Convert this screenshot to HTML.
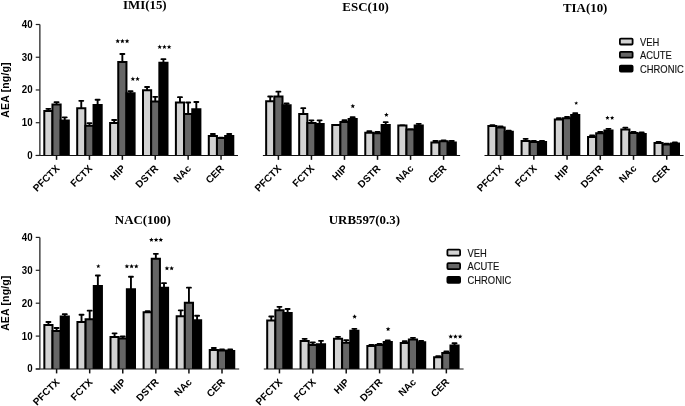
<!DOCTYPE html><html><head><meta charset="utf-8"><title>AEA levels</title><style>
html,body{margin:0;padding:0;background:#fff;overflow:hidden;}svg{display:block;}
.t{font-family:"Liberation Serif",serif;font-weight:bold;font-size:12.9px;fill:#000;}
.yl{font-family:"Liberation Sans",sans-serif;font-weight:bold;font-size:9.7px;fill:#000;}
.xl{font-family:"Liberation Sans",sans-serif;font-weight:bold;font-size:10px;fill:#000;}
.al{font-family:"Liberation Sans",sans-serif;font-weight:bold;font-size:10.5px;letter-spacing:0.15px;fill:#000;}
.lg{font-family:"Liberation Sans",sans-serif;font-size:9.4px;fill:#111;stroke:#111;stroke-width:0.12px;}
</style></head><body>
<div style="will-change:transform;width:685px;height:406px;">
<svg width="685" height="406" viewBox="0 0 685 406">
<rect width="685" height="406" fill="#fff"/>
<g>
<text class="t" x="144.8" y="8.8" text-anchor="middle">IMI(15)</text>
<line x1="48.38" y1="111.1" x2="48.38" y2="108.85" stroke="#000" stroke-width="1.9"/>
<line x1="46.38" y1="108.85" x2="50.38" y2="108.85" stroke="#000" stroke-width="1.9" stroke-linecap="round"/>
<path d="M44.3 155.45V111.1H52.45V155.45" fill="#d3d3d3" stroke="#000" stroke-width="2.0"/>
<line x1="56.55" y1="104.6" x2="56.55" y2="102.15" stroke="#000" stroke-width="1.9"/>
<line x1="54.55" y1="102.15" x2="58.55" y2="102.15" stroke="#000" stroke-width="1.9" stroke-linecap="round"/>
<path d="M52.45 155.45V104.6H60.65V155.45" fill="#666666" stroke="#000" stroke-width="2.0"/>
<line x1="64.72" y1="120.6" x2="64.72" y2="117.35" stroke="#000" stroke-width="1.9"/>
<line x1="62.72" y1="117.35" x2="66.72" y2="117.35" stroke="#000" stroke-width="1.9" stroke-linecap="round"/>
<path d="M60.65 155.45V120.6H68.8V155.45" fill="#000000" stroke="#000" stroke-width="2.0"/>
<line x1="56.55" y1="155.45" x2="56.55" y2="159.85" stroke="#111" stroke-width="1.5"/>
<text class="xl" text-anchor="end" transform="translate(60.15,169.15) rotate(-45)">PFCTX</text>
<line x1="81.27" y1="108.2" x2="81.27" y2="100.85" stroke="#000" stroke-width="1.9"/>
<line x1="79.27" y1="100.85" x2="83.27" y2="100.85" stroke="#000" stroke-width="1.9" stroke-linecap="round"/>
<path d="M77.2 155.45V108.2H85.35V155.45" fill="#d3d3d3" stroke="#000" stroke-width="2.0"/>
<line x1="89.45" y1="125.8" x2="89.45" y2="123.15" stroke="#000" stroke-width="1.9"/>
<line x1="87.45" y1="123.15" x2="91.45" y2="123.15" stroke="#000" stroke-width="1.9" stroke-linecap="round"/>
<path d="M85.35 155.45V125.8H93.55V155.45" fill="#666666" stroke="#000" stroke-width="2.0"/>
<line x1="97.62" y1="105" x2="97.62" y2="99.75" stroke="#000" stroke-width="1.9"/>
<line x1="95.62" y1="99.75" x2="99.62" y2="99.75" stroke="#000" stroke-width="1.9" stroke-linecap="round"/>
<path d="M93.55 155.45V105H101.7V155.45" fill="#000000" stroke="#000" stroke-width="2.0"/>
<line x1="89.45" y1="155.45" x2="89.45" y2="159.85" stroke="#111" stroke-width="1.5"/>
<text class="xl" text-anchor="end" transform="translate(93.05,169.15) rotate(-45)">FCTX</text>
<line x1="114.17" y1="123.1" x2="114.17" y2="119.95" stroke="#000" stroke-width="1.9"/>
<line x1="112.17" y1="119.95" x2="116.17" y2="119.95" stroke="#000" stroke-width="1.9" stroke-linecap="round"/>
<path d="M110.1 155.45V123.1H118.25V155.45" fill="#d3d3d3" stroke="#000" stroke-width="2.0"/>
<line x1="122.35" y1="61.9" x2="122.35" y2="53.95" stroke="#000" stroke-width="1.9"/>
<line x1="120.35" y1="53.95" x2="124.35" y2="53.95" stroke="#000" stroke-width="1.9" stroke-linecap="round"/>
<path d="M118.25 155.45V61.9H126.45V155.45" fill="#666666" stroke="#000" stroke-width="2.0"/>
<line x1="130.52" y1="93.3" x2="130.52" y2="91.15" stroke="#000" stroke-width="1.9"/>
<line x1="128.52" y1="91.15" x2="132.52" y2="91.15" stroke="#000" stroke-width="1.9" stroke-linecap="round"/>
<path d="M126.45 155.45V93.3H134.6V155.45" fill="#000000" stroke="#000" stroke-width="2.0"/>
<line x1="122.35" y1="155.45" x2="122.35" y2="159.85" stroke="#111" stroke-width="1.5"/>
<text class="xl" text-anchor="end" transform="translate(125.95,169.15) rotate(-45)">HIP</text>
<line x1="147.07" y1="90.2" x2="147.07" y2="86.95" stroke="#000" stroke-width="1.9"/>
<line x1="145.07" y1="86.95" x2="149.07" y2="86.95" stroke="#000" stroke-width="1.9" stroke-linecap="round"/>
<path d="M143 155.45V90.2H151.15V155.45" fill="#d3d3d3" stroke="#000" stroke-width="2.0"/>
<line x1="155.25" y1="101.5" x2="155.25" y2="96.85" stroke="#000" stroke-width="1.9"/>
<line x1="153.25" y1="96.85" x2="157.25" y2="96.85" stroke="#000" stroke-width="1.9" stroke-linecap="round"/>
<path d="M151.15 155.45V101.5H159.35V155.45" fill="#666666" stroke="#000" stroke-width="2.0"/>
<line x1="163.43" y1="62.8" x2="163.43" y2="59.15" stroke="#000" stroke-width="1.9"/>
<line x1="161.43" y1="59.15" x2="165.43" y2="59.15" stroke="#000" stroke-width="1.9" stroke-linecap="round"/>
<path d="M159.35 155.45V62.8H167.5V155.45" fill="#000000" stroke="#000" stroke-width="2.0"/>
<line x1="155.25" y1="155.45" x2="155.25" y2="159.85" stroke="#111" stroke-width="1.5"/>
<text class="xl" text-anchor="end" transform="translate(158.85,169.15) rotate(-45)">DSTR</text>
<line x1="179.97" y1="102.6" x2="179.97" y2="97.15" stroke="#000" stroke-width="1.9"/>
<line x1="177.97" y1="97.15" x2="181.97" y2="97.15" stroke="#000" stroke-width="1.9" stroke-linecap="round"/>
<path d="M175.9 155.45V102.6H184.05V155.45" fill="#d3d3d3" stroke="#000" stroke-width="2.0"/>
<line x1="188.15" y1="114.1" x2="188.15" y2="102.55" stroke="#000" stroke-width="1.9"/>
<line x1="186.15" y1="102.55" x2="190.15" y2="102.55" stroke="#000" stroke-width="1.9" stroke-linecap="round"/>
<path d="M184.05 155.45V114.1H192.25V155.45" fill="#666666" stroke="#000" stroke-width="2.0"/>
<line x1="196.32" y1="109.3" x2="196.32" y2="101.95" stroke="#000" stroke-width="1.9"/>
<line x1="194.32" y1="101.95" x2="198.32" y2="101.95" stroke="#000" stroke-width="1.9" stroke-linecap="round"/>
<path d="M192.25 155.45V109.3H200.4V155.45" fill="#000000" stroke="#000" stroke-width="2.0"/>
<line x1="188.15" y1="155.45" x2="188.15" y2="159.85" stroke="#111" stroke-width="1.5"/>
<text class="xl" text-anchor="end" transform="translate(191.75,169.15) rotate(-45)">NAc</text>
<line x1="212.88" y1="135.9" x2="212.88" y2="134.05" stroke="#000" stroke-width="1.9"/>
<line x1="210.88" y1="134.05" x2="214.88" y2="134.05" stroke="#000" stroke-width="1.9" stroke-linecap="round"/>
<path d="M208.8 155.45V135.9H216.95V155.45" fill="#d3d3d3" stroke="#000" stroke-width="2.0"/>
<line x1="221.05" y1="138.1" x2="221.05" y2="137.75" stroke="#000" stroke-width="1.9"/>
<line x1="219.05" y1="137.75" x2="223.05" y2="137.75" stroke="#000" stroke-width="1.9" stroke-linecap="round"/>
<path d="M216.95 155.45V138.1H225.15V155.45" fill="#666666" stroke="#000" stroke-width="2.0"/>
<line x1="229.23" y1="135.9" x2="229.23" y2="134.05" stroke="#000" stroke-width="1.9"/>
<line x1="227.23" y1="134.05" x2="231.23" y2="134.05" stroke="#000" stroke-width="1.9" stroke-linecap="round"/>
<path d="M225.15 155.45V135.9H233.3V155.45" fill="#000000" stroke="#000" stroke-width="2.0"/>
<line x1="221.05" y1="155.45" x2="221.05" y2="159.85" stroke="#111" stroke-width="1.5"/>
<text class="xl" text-anchor="end" transform="translate(224.65,169.15) rotate(-45)">CER</text>
<line x1="35.75" y1="155.45" x2="238" y2="155.45" stroke="#111" stroke-width="1.15"/>
<line x1="39.85" y1="24.5" x2="39.85" y2="155.45" stroke="#444" stroke-width="1.5"/>
<line x1="35.75" y1="155.45" x2="39.85" y2="155.45" stroke="#222" stroke-width="1.2"/>
<text class="yl" text-anchor="end" transform="translate(32.55,158.85) scale(1,1.08)">0</text>
<line x1="35.75" y1="122.71" x2="39.85" y2="122.71" stroke="#222" stroke-width="1.2"/>
<text class="yl" text-anchor="end" transform="translate(32.55,126.11) scale(1,1.08)">10</text>
<line x1="35.75" y1="89.97" x2="39.85" y2="89.97" stroke="#222" stroke-width="1.2"/>
<text class="yl" text-anchor="end" transform="translate(32.55,93.38) scale(1,1.08)">20</text>
<line x1="35.75" y1="57.24" x2="39.85" y2="57.24" stroke="#222" stroke-width="1.2"/>
<text class="yl" text-anchor="end" transform="translate(32.55,60.64) scale(1,1.08)">30</text>
<line x1="35.75" y1="24.5" x2="39.85" y2="24.5" stroke="#222" stroke-width="1.2"/>
<text class="yl" text-anchor="end" transform="translate(32.55,27.9) scale(1,1.08)">40</text>
<text class="al" text-anchor="middle" transform="translate(8.9,89.97) rotate(-90)">AEA [ng/g]</text>
<g fill="#000">
<polygon points="117.70,38.80 118.33,40.33 119.98,40.46 118.73,41.53 119.11,43.14 117.70,42.28 116.29,43.14 116.67,41.53 115.42,40.46 117.07,40.33"/>
<polygon points="122.40,38.80 123.03,40.33 124.68,40.46 123.43,41.53 123.81,43.14 122.40,42.28 120.99,43.14 121.37,41.53 120.12,40.46 121.77,40.33"/>
<polygon points="127.10,38.80 127.73,40.33 129.38,40.46 128.13,41.53 128.51,43.14 127.10,42.28 125.69,43.14 126.07,41.53 124.82,40.46 126.47,40.33"/>
<polygon points="132.85,76.60 133.48,78.13 135.13,78.26 133.88,79.33 134.26,80.94 132.85,80.08 131.44,80.94 131.82,79.33 130.57,78.26 132.22,78.13"/>
<polygon points="137.55,76.60 138.18,78.13 139.83,78.26 138.58,79.33 138.96,80.94 137.55,80.08 136.14,80.94 136.52,79.33 135.27,78.26 136.92,78.13"/>
<polygon points="159.70,44.60 160.33,46.13 161.98,46.26 160.73,47.33 161.11,48.94 159.70,48.08 158.29,48.94 158.67,47.33 157.42,46.26 159.07,46.13"/>
<polygon points="164.40,44.60 165.03,46.13 166.68,46.26 165.43,47.33 165.81,48.94 164.40,48.08 162.99,48.94 163.37,47.33 162.12,46.26 163.77,46.13"/>
<polygon points="169.10,44.60 169.73,46.13 171.38,46.26 170.13,47.33 170.51,48.94 169.10,48.08 167.69,48.94 168.07,47.33 166.82,46.26 168.47,46.13"/>
</g></g>
<g>
<text class="t" x="365.65" y="11.4" text-anchor="middle">ESC(10)</text>
<line x1="270.22" y1="101.3" x2="270.22" y2="96.55" stroke="#000" stroke-width="1.9"/>
<line x1="268.22" y1="96.55" x2="272.22" y2="96.55" stroke="#000" stroke-width="1.9" stroke-linecap="round"/>
<path d="M266.15 155.45V101.3H274.3V155.45" fill="#d3d3d3" stroke="#000" stroke-width="2.0"/>
<line x1="278.4" y1="96.4" x2="278.4" y2="91.65" stroke="#000" stroke-width="1.9"/>
<line x1="276.4" y1="91.65" x2="280.4" y2="91.65" stroke="#000" stroke-width="1.9" stroke-linecap="round"/>
<path d="M274.3 155.45V96.4H282.5V155.45" fill="#666666" stroke="#000" stroke-width="2.0"/>
<line x1="286.57" y1="105.3" x2="286.57" y2="103.45" stroke="#000" stroke-width="1.9"/>
<line x1="284.57" y1="103.45" x2="288.57" y2="103.45" stroke="#000" stroke-width="1.9" stroke-linecap="round"/>
<path d="M282.5 155.45V105.3H290.65V155.45" fill="#000000" stroke="#000" stroke-width="2.0"/>
<line x1="278.4" y1="155.45" x2="278.4" y2="159.85" stroke="#111" stroke-width="1.5"/>
<text class="xl" text-anchor="end" transform="translate(282,169.15) rotate(-45)">PFCTX</text>
<line x1="303.26" y1="113.9" x2="303.26" y2="108.15" stroke="#000" stroke-width="1.9"/>
<line x1="301.26" y1="108.15" x2="305.26" y2="108.15" stroke="#000" stroke-width="1.9" stroke-linecap="round"/>
<path d="M299.19 155.45V113.9H307.34V155.45" fill="#d3d3d3" stroke="#000" stroke-width="2.0"/>
<line x1="311.44" y1="122.9" x2="311.44" y2="120.35" stroke="#000" stroke-width="1.9"/>
<line x1="309.44" y1="120.35" x2="313.44" y2="120.35" stroke="#000" stroke-width="1.9" stroke-linecap="round"/>
<path d="M307.34 155.45V122.9H315.54V155.45" fill="#666666" stroke="#000" stroke-width="2.0"/>
<line x1="319.62" y1="123.9" x2="319.62" y2="120.35" stroke="#000" stroke-width="1.9"/>
<line x1="317.62" y1="120.35" x2="321.62" y2="120.35" stroke="#000" stroke-width="1.9" stroke-linecap="round"/>
<path d="M315.54 155.45V123.9H323.69V155.45" fill="#000000" stroke="#000" stroke-width="2.0"/>
<line x1="311.44" y1="155.45" x2="311.44" y2="159.85" stroke="#111" stroke-width="1.5"/>
<text class="xl" text-anchor="end" transform="translate(315.04,169.15) rotate(-45)">FCTX</text>
<line x1="334.3" y1="124.95" x2="338.3" y2="124.95" stroke="#000" stroke-width="1.9" stroke-linecap="round"/>
<path d="M332.23 155.45V125H340.38V155.45" fill="#d3d3d3" stroke="#000" stroke-width="2.0"/>
<line x1="344.48" y1="122.1" x2="344.48" y2="120.15" stroke="#000" stroke-width="1.9"/>
<line x1="342.48" y1="120.15" x2="346.48" y2="120.15" stroke="#000" stroke-width="1.9" stroke-linecap="round"/>
<path d="M340.38 155.45V122.1H348.58V155.45" fill="#666666" stroke="#000" stroke-width="2.0"/>
<line x1="352.65" y1="119" x2="352.65" y2="117.15" stroke="#000" stroke-width="1.9"/>
<line x1="350.65" y1="117.15" x2="354.65" y2="117.15" stroke="#000" stroke-width="1.9" stroke-linecap="round"/>
<path d="M348.58 155.45V119H356.73V155.45" fill="#000000" stroke="#000" stroke-width="2.0"/>
<line x1="344.48" y1="155.45" x2="344.48" y2="159.85" stroke="#111" stroke-width="1.5"/>
<text class="xl" text-anchor="end" transform="translate(348.08,169.15) rotate(-45)">HIP</text>
<line x1="369.34" y1="132.8" x2="369.34" y2="131.25" stroke="#000" stroke-width="1.9"/>
<line x1="367.34" y1="131.25" x2="371.34" y2="131.25" stroke="#000" stroke-width="1.9" stroke-linecap="round"/>
<path d="M365.27 155.45V132.8H373.42V155.45" fill="#d3d3d3" stroke="#000" stroke-width="2.0"/>
<line x1="377.52" y1="133.3" x2="377.52" y2="131.95" stroke="#000" stroke-width="1.9"/>
<line x1="375.52" y1="131.95" x2="379.52" y2="131.95" stroke="#000" stroke-width="1.9" stroke-linecap="round"/>
<path d="M373.42 155.45V133.3H381.62V155.45" fill="#666666" stroke="#000" stroke-width="2.0"/>
<line x1="385.69" y1="125.1" x2="385.69" y2="122.15" stroke="#000" stroke-width="1.9"/>
<line x1="383.69" y1="122.15" x2="387.69" y2="122.15" stroke="#000" stroke-width="1.9" stroke-linecap="round"/>
<path d="M381.62 155.45V125.1H389.77V155.45" fill="#000000" stroke="#000" stroke-width="2.0"/>
<line x1="377.52" y1="155.45" x2="377.52" y2="159.85" stroke="#111" stroke-width="1.5"/>
<text class="xl" text-anchor="end" transform="translate(381.12,169.15) rotate(-45)">DSTR</text>
<line x1="400.38" y1="125.55" x2="404.38" y2="125.55" stroke="#000" stroke-width="1.9" stroke-linecap="round"/>
<path d="M398.31 155.45V125.6H406.46V155.45" fill="#d3d3d3" stroke="#000" stroke-width="2.0"/>
<line x1="408.56" y1="129.45" x2="412.56" y2="129.45" stroke="#000" stroke-width="1.9" stroke-linecap="round"/>
<path d="M406.46 155.45V129.5H414.66V155.45" fill="#666666" stroke="#000" stroke-width="2.0"/>
<line x1="418.73" y1="125.4" x2="418.73" y2="123.85" stroke="#000" stroke-width="1.9"/>
<line x1="416.73" y1="123.85" x2="420.73" y2="123.85" stroke="#000" stroke-width="1.9" stroke-linecap="round"/>
<path d="M414.66 155.45V125.4H422.81V155.45" fill="#000000" stroke="#000" stroke-width="2.0"/>
<line x1="410.56" y1="155.45" x2="410.56" y2="159.85" stroke="#111" stroke-width="1.5"/>
<text class="xl" text-anchor="end" transform="translate(414.16,169.15) rotate(-45)">NAc</text>
<line x1="435.42" y1="142.6" x2="435.42" y2="141.05" stroke="#000" stroke-width="1.9"/>
<line x1="433.42" y1="141.05" x2="437.42" y2="141.05" stroke="#000" stroke-width="1.9" stroke-linecap="round"/>
<path d="M431.35 155.45V142.6H439.5V155.45" fill="#d3d3d3" stroke="#000" stroke-width="2.0"/>
<line x1="443.6" y1="141.3" x2="443.6" y2="140.35" stroke="#000" stroke-width="1.9"/>
<line x1="441.6" y1="140.35" x2="445.6" y2="140.35" stroke="#000" stroke-width="1.9" stroke-linecap="round"/>
<path d="M439.5 155.45V141.3H447.7V155.45" fill="#666666" stroke="#000" stroke-width="2.0"/>
<line x1="451.77" y1="142.6" x2="451.77" y2="141.05" stroke="#000" stroke-width="1.9"/>
<line x1="449.77" y1="141.05" x2="453.77" y2="141.05" stroke="#000" stroke-width="1.9" stroke-linecap="round"/>
<path d="M447.7 155.45V142.6H455.85V155.45" fill="#000000" stroke="#000" stroke-width="2.0"/>
<line x1="443.6" y1="155.45" x2="443.6" y2="159.85" stroke="#111" stroke-width="1.5"/>
<text class="xl" text-anchor="end" transform="translate(447.2,169.15) rotate(-45)">CER</text>
<line x1="262.9" y1="155.45" x2="460.1" y2="155.45" stroke="#111" stroke-width="1.15"/>
<g fill="#000">
<polygon points="352.80,103.80 353.43,105.33 355.08,105.46 353.83,106.53 354.21,108.14 352.80,107.28 351.39,108.14 351.77,106.53 350.52,105.46 352.17,105.33"/>
<polygon points="386.40,112.50 387.03,114.03 388.68,114.16 387.43,115.23 387.81,116.84 386.40,115.98 384.99,116.84 385.37,115.23 384.12,114.16 385.77,114.03"/>
</g></g>
<g>
<text class="t" x="585.2" y="12.3" text-anchor="middle">TIA(10)</text>
<line x1="492.43" y1="126.1" x2="492.43" y2="125.15" stroke="#000" stroke-width="1.9"/>
<line x1="490.43" y1="125.15" x2="494.43" y2="125.15" stroke="#000" stroke-width="1.9" stroke-linecap="round"/>
<path d="M488.35 155.45V126.1H496.5V155.45" fill="#d3d3d3" stroke="#000" stroke-width="2.0"/>
<line x1="500.6" y1="127.6" x2="500.6" y2="126.35" stroke="#000" stroke-width="1.9"/>
<line x1="498.6" y1="126.35" x2="502.6" y2="126.35" stroke="#000" stroke-width="1.9" stroke-linecap="round"/>
<path d="M496.5 155.45V127.6H504.7V155.45" fill="#666666" stroke="#000" stroke-width="2.0"/>
<line x1="508.78" y1="131.8" x2="508.78" y2="130.75" stroke="#000" stroke-width="1.9"/>
<line x1="506.78" y1="130.75" x2="510.78" y2="130.75" stroke="#000" stroke-width="1.9" stroke-linecap="round"/>
<path d="M504.7 155.45V131.8H512.85V155.45" fill="#000000" stroke="#000" stroke-width="2.0"/>
<line x1="500.6" y1="155.45" x2="500.6" y2="159.85" stroke="#111" stroke-width="1.5"/>
<text class="xl" text-anchor="end" transform="translate(504.2,169.15) rotate(-45)">PFCTX</text>
<line x1="525.65" y1="140.9" x2="525.65" y2="138.85" stroke="#000" stroke-width="1.9"/>
<line x1="523.65" y1="138.85" x2="527.65" y2="138.85" stroke="#000" stroke-width="1.9" stroke-linecap="round"/>
<path d="M521.58 155.45V140.9H529.73V155.45" fill="#d3d3d3" stroke="#000" stroke-width="2.0"/>
<line x1="533.83" y1="142.1" x2="533.83" y2="141.05" stroke="#000" stroke-width="1.9"/>
<line x1="531.83" y1="141.05" x2="535.83" y2="141.05" stroke="#000" stroke-width="1.9" stroke-linecap="round"/>
<path d="M529.73 155.45V142.1H537.93V155.45" fill="#666666" stroke="#000" stroke-width="2.0"/>
<line x1="542.01" y1="141.9" x2="542.01" y2="140.85" stroke="#000" stroke-width="1.9"/>
<line x1="540.01" y1="140.85" x2="544.01" y2="140.85" stroke="#000" stroke-width="1.9" stroke-linecap="round"/>
<path d="M537.93 155.45V141.9H546.08V155.45" fill="#000000" stroke="#000" stroke-width="2.0"/>
<line x1="533.83" y1="155.45" x2="533.83" y2="159.85" stroke="#111" stroke-width="1.5"/>
<text class="xl" text-anchor="end" transform="translate(537.43,169.15) rotate(-45)">FCTX</text>
<line x1="558.88" y1="119.6" x2="558.88" y2="118.25" stroke="#000" stroke-width="1.9"/>
<line x1="556.88" y1="118.25" x2="560.88" y2="118.25" stroke="#000" stroke-width="1.9" stroke-linecap="round"/>
<path d="M554.81 155.45V119.6H562.96V155.45" fill="#d3d3d3" stroke="#000" stroke-width="2.0"/>
<line x1="567.06" y1="118.3" x2="567.06" y2="117.05" stroke="#000" stroke-width="1.9"/>
<line x1="565.06" y1="117.05" x2="569.06" y2="117.05" stroke="#000" stroke-width="1.9" stroke-linecap="round"/>
<path d="M562.96 155.45V118.3H571.16V155.45" fill="#666666" stroke="#000" stroke-width="2.0"/>
<line x1="575.24" y1="114.9" x2="575.24" y2="113.25" stroke="#000" stroke-width="1.9"/>
<line x1="573.24" y1="113.25" x2="577.24" y2="113.25" stroke="#000" stroke-width="1.9" stroke-linecap="round"/>
<path d="M571.16 155.45V114.9H579.31V155.45" fill="#000000" stroke="#000" stroke-width="2.0"/>
<line x1="567.06" y1="155.45" x2="567.06" y2="159.85" stroke="#111" stroke-width="1.5"/>
<text class="xl" text-anchor="end" transform="translate(570.66,169.15) rotate(-45)">HIP</text>
<line x1="592.12" y1="137" x2="592.12" y2="135.55" stroke="#000" stroke-width="1.9"/>
<line x1="590.12" y1="135.55" x2="594.12" y2="135.55" stroke="#000" stroke-width="1.9" stroke-linecap="round"/>
<path d="M588.04 155.45V137H596.19V155.45" fill="#d3d3d3" stroke="#000" stroke-width="2.0"/>
<line x1="600.29" y1="133.3" x2="600.29" y2="132.05" stroke="#000" stroke-width="1.9"/>
<line x1="598.29" y1="132.05" x2="602.29" y2="132.05" stroke="#000" stroke-width="1.9" stroke-linecap="round"/>
<path d="M596.19 155.45V133.3H604.39V155.45" fill="#666666" stroke="#000" stroke-width="2.0"/>
<line x1="608.46" y1="130.4" x2="608.46" y2="128.85" stroke="#000" stroke-width="1.9"/>
<line x1="606.46" y1="128.85" x2="610.46" y2="128.85" stroke="#000" stroke-width="1.9" stroke-linecap="round"/>
<path d="M604.39 155.45V130.4H612.54V155.45" fill="#000000" stroke="#000" stroke-width="2.0"/>
<line x1="600.29" y1="155.45" x2="600.29" y2="159.85" stroke="#111" stroke-width="1.5"/>
<text class="xl" text-anchor="end" transform="translate(603.89,169.15) rotate(-45)">DSTR</text>
<line x1="625.35" y1="129.4" x2="625.35" y2="127.65" stroke="#000" stroke-width="1.9"/>
<line x1="623.35" y1="127.65" x2="627.35" y2="127.65" stroke="#000" stroke-width="1.9" stroke-linecap="round"/>
<path d="M621.27 155.45V129.4H629.42V155.45" fill="#d3d3d3" stroke="#000" stroke-width="2.0"/>
<line x1="633.52" y1="132.9" x2="633.52" y2="131.85" stroke="#000" stroke-width="1.9"/>
<line x1="631.52" y1="131.85" x2="635.52" y2="131.85" stroke="#000" stroke-width="1.9" stroke-linecap="round"/>
<path d="M629.42 155.45V132.9H637.62V155.45" fill="#666666" stroke="#000" stroke-width="2.0"/>
<line x1="641.69" y1="134.1" x2="641.69" y2="132.55" stroke="#000" stroke-width="1.9"/>
<line x1="639.69" y1="132.55" x2="643.69" y2="132.55" stroke="#000" stroke-width="1.9" stroke-linecap="round"/>
<path d="M637.62 155.45V134.1H645.77V155.45" fill="#000000" stroke="#000" stroke-width="2.0"/>
<line x1="633.52" y1="155.45" x2="633.52" y2="159.85" stroke="#111" stroke-width="1.5"/>
<text class="xl" text-anchor="end" transform="translate(637.12,169.15) rotate(-45)">NAc</text>
<line x1="658.58" y1="143.1" x2="658.58" y2="142.05" stroke="#000" stroke-width="1.9"/>
<line x1="656.58" y1="142.05" x2="660.58" y2="142.05" stroke="#000" stroke-width="1.9" stroke-linecap="round"/>
<path d="M654.5 155.45V143.1H662.65V155.45" fill="#d3d3d3" stroke="#000" stroke-width="2.0"/>
<line x1="666.75" y1="144.4" x2="666.75" y2="143.75" stroke="#000" stroke-width="1.9"/>
<line x1="664.75" y1="143.75" x2="668.75" y2="143.75" stroke="#000" stroke-width="1.9" stroke-linecap="round"/>
<path d="M662.65 155.45V144.4H670.85V155.45" fill="#666666" stroke="#000" stroke-width="2.0"/>
<line x1="674.92" y1="143.4" x2="674.92" y2="142.55" stroke="#000" stroke-width="1.9"/>
<line x1="672.92" y1="142.55" x2="676.92" y2="142.55" stroke="#000" stroke-width="1.9" stroke-linecap="round"/>
<path d="M670.85 155.45V143.4H679V155.45" fill="#000000" stroke="#000" stroke-width="2.0"/>
<line x1="666.75" y1="155.45" x2="666.75" y2="159.85" stroke="#111" stroke-width="1.5"/>
<text class="xl" text-anchor="end" transform="translate(670.35,169.15) rotate(-45)">CER</text>
<line x1="484.5" y1="155.45" x2="683.6" y2="155.45" stroke="#111" stroke-width="1.15"/>
<g fill="#000">
<polygon points="576.20,101.20 576.73,102.47 578.10,102.58 577.06,103.48 577.38,104.82 576.20,104.10 575.02,104.82 575.34,103.48 574.30,102.58 575.67,102.47"/>
<polygon points="607.45,115.70 608.03,117.10 609.54,117.22 608.39,118.21 608.74,119.68 607.45,118.89 606.16,119.68 606.51,118.21 605.36,117.22 606.87,117.10"/>
<polygon points="612.15,115.70 612.73,117.10 614.24,117.22 613.09,118.21 613.44,119.68 612.15,118.89 610.86,119.68 611.21,118.21 610.06,117.22 611.57,117.10"/>
</g></g>
<g>
<text class="t" x="142.8" y="223.8" text-anchor="middle">NAC(100)</text>
<line x1="48.42" y1="325" x2="48.42" y2="322.05" stroke="#000" stroke-width="1.9"/>
<line x1="46.42" y1="322.05" x2="50.42" y2="322.05" stroke="#000" stroke-width="1.9" stroke-linecap="round"/>
<path d="M44.35 369V325H52.5V369" fill="#d3d3d3" stroke="#000" stroke-width="2.0"/>
<line x1="56.6" y1="330.9" x2="56.6" y2="328.05" stroke="#000" stroke-width="1.9"/>
<line x1="54.6" y1="328.05" x2="58.6" y2="328.05" stroke="#000" stroke-width="1.9" stroke-linecap="round"/>
<path d="M52.5 369V330.9H60.7V369" fill="#666666" stroke="#000" stroke-width="2.0"/>
<line x1="64.78" y1="316.4" x2="64.78" y2="314.15" stroke="#000" stroke-width="1.9"/>
<line x1="62.78" y1="314.15" x2="66.78" y2="314.15" stroke="#000" stroke-width="1.9" stroke-linecap="round"/>
<path d="M60.7 369V316.4H68.85V369" fill="#000000" stroke="#000" stroke-width="2.0"/>
<line x1="56.6" y1="369" x2="56.6" y2="373.4" stroke="#111" stroke-width="1.5"/>
<text class="xl" text-anchor="end" transform="translate(60.2,382.7) rotate(-45)">PFCTX</text>
<line x1="81.51" y1="322" x2="81.51" y2="314.75" stroke="#000" stroke-width="1.9"/>
<line x1="79.51" y1="314.75" x2="83.51" y2="314.75" stroke="#000" stroke-width="1.9" stroke-linecap="round"/>
<path d="M77.43 369V322H85.58V369" fill="#d3d3d3" stroke="#000" stroke-width="2.0"/>
<line x1="89.68" y1="319.2" x2="89.68" y2="310.65" stroke="#000" stroke-width="1.9"/>
<line x1="87.68" y1="310.65" x2="91.68" y2="310.65" stroke="#000" stroke-width="1.9" stroke-linecap="round"/>
<path d="M85.58 369V319.2H93.78V369" fill="#666666" stroke="#000" stroke-width="2.0"/>
<line x1="97.86" y1="285.9" x2="97.86" y2="275.45" stroke="#000" stroke-width="1.9"/>
<line x1="95.86" y1="275.45" x2="99.86" y2="275.45" stroke="#000" stroke-width="1.9" stroke-linecap="round"/>
<path d="M93.78 369V285.9H101.93V369" fill="#000000" stroke="#000" stroke-width="2.0"/>
<line x1="89.68" y1="369" x2="89.68" y2="373.4" stroke="#111" stroke-width="1.5"/>
<text class="xl" text-anchor="end" transform="translate(93.28,382.7) rotate(-45)">FCTX</text>
<line x1="114.58" y1="336.9" x2="114.58" y2="333.35" stroke="#000" stroke-width="1.9"/>
<line x1="112.58" y1="333.35" x2="116.58" y2="333.35" stroke="#000" stroke-width="1.9" stroke-linecap="round"/>
<path d="M110.51 369V336.9H118.66V369" fill="#d3d3d3" stroke="#000" stroke-width="2.0"/>
<line x1="122.76" y1="338.4" x2="122.76" y2="336.55" stroke="#000" stroke-width="1.9"/>
<line x1="120.76" y1="336.55" x2="124.76" y2="336.55" stroke="#000" stroke-width="1.9" stroke-linecap="round"/>
<path d="M118.66 369V338.4H126.86V369" fill="#666666" stroke="#000" stroke-width="2.0"/>
<line x1="130.94" y1="289.3" x2="130.94" y2="276.75" stroke="#000" stroke-width="1.9"/>
<line x1="128.94" y1="276.75" x2="132.94" y2="276.75" stroke="#000" stroke-width="1.9" stroke-linecap="round"/>
<path d="M126.86 369V289.3H135.01V369" fill="#000000" stroke="#000" stroke-width="2.0"/>
<line x1="122.76" y1="369" x2="122.76" y2="373.4" stroke="#111" stroke-width="1.5"/>
<text class="xl" text-anchor="end" transform="translate(126.36,382.7) rotate(-45)">HIP</text>
<line x1="147.67" y1="312.2" x2="147.67" y2="311.15" stroke="#000" stroke-width="1.9"/>
<line x1="145.67" y1="311.15" x2="149.67" y2="311.15" stroke="#000" stroke-width="1.9" stroke-linecap="round"/>
<path d="M143.59 369V312.2H151.74V369" fill="#d3d3d3" stroke="#000" stroke-width="2.0"/>
<line x1="155.84" y1="258.8" x2="155.84" y2="253.85" stroke="#000" stroke-width="1.9"/>
<line x1="153.84" y1="253.85" x2="157.84" y2="253.85" stroke="#000" stroke-width="1.9" stroke-linecap="round"/>
<path d="M151.74 369V258.8H159.94V369" fill="#666666" stroke="#000" stroke-width="2.0"/>
<line x1="164.01" y1="287.8" x2="164.01" y2="283.15" stroke="#000" stroke-width="1.9"/>
<line x1="162.01" y1="283.15" x2="166.01" y2="283.15" stroke="#000" stroke-width="1.9" stroke-linecap="round"/>
<path d="M159.94 369V287.8H168.09V369" fill="#000000" stroke="#000" stroke-width="2.0"/>
<line x1="155.84" y1="369" x2="155.84" y2="373.4" stroke="#111" stroke-width="1.5"/>
<text class="xl" text-anchor="end" transform="translate(159.44,382.7) rotate(-45)">DSTR</text>
<line x1="180.75" y1="316.3" x2="180.75" y2="310.35" stroke="#000" stroke-width="1.9"/>
<line x1="178.75" y1="310.35" x2="182.75" y2="310.35" stroke="#000" stroke-width="1.9" stroke-linecap="round"/>
<path d="M176.67 369V316.3H184.82V369" fill="#d3d3d3" stroke="#000" stroke-width="2.0"/>
<line x1="188.92" y1="302.8" x2="188.92" y2="287.65" stroke="#000" stroke-width="1.9"/>
<line x1="186.92" y1="287.65" x2="190.92" y2="287.65" stroke="#000" stroke-width="1.9" stroke-linecap="round"/>
<path d="M184.82 369V302.8H193.02V369" fill="#666666" stroke="#000" stroke-width="2.0"/>
<line x1="197.09" y1="320.2" x2="197.09" y2="315.75" stroke="#000" stroke-width="1.9"/>
<line x1="195.09" y1="315.75" x2="199.09" y2="315.75" stroke="#000" stroke-width="1.9" stroke-linecap="round"/>
<path d="M193.02 369V320.2H201.17V369" fill="#000000" stroke="#000" stroke-width="2.0"/>
<line x1="188.92" y1="369" x2="188.92" y2="373.4" stroke="#111" stroke-width="1.5"/>
<text class="xl" text-anchor="end" transform="translate(192.52,382.7) rotate(-45)">NAc</text>
<line x1="213.82" y1="350.1" x2="213.82" y2="348.05" stroke="#000" stroke-width="1.9"/>
<line x1="211.82" y1="348.05" x2="215.82" y2="348.05" stroke="#000" stroke-width="1.9" stroke-linecap="round"/>
<path d="M209.75 369V350.1H217.9V369" fill="#d3d3d3" stroke="#000" stroke-width="2.0"/>
<line x1="222" y1="350.6" x2="222" y2="349.35" stroke="#000" stroke-width="1.9"/>
<line x1="220" y1="349.35" x2="224" y2="349.35" stroke="#000" stroke-width="1.9" stroke-linecap="round"/>
<path d="M217.9 369V350.6H226.1V369" fill="#666666" stroke="#000" stroke-width="2.0"/>
<line x1="230.17" y1="350.9" x2="230.17" y2="349.55" stroke="#000" stroke-width="1.9"/>
<line x1="228.17" y1="349.55" x2="232.17" y2="349.55" stroke="#000" stroke-width="1.9" stroke-linecap="round"/>
<path d="M226.1 369V350.9H234.25V369" fill="#000000" stroke="#000" stroke-width="2.0"/>
<line x1="222" y1="369" x2="222" y2="373.4" stroke="#111" stroke-width="1.5"/>
<text class="xl" text-anchor="end" transform="translate(225.6,382.7) rotate(-45)">CER</text>
<line x1="35.75" y1="369" x2="239.2" y2="369" stroke="#111" stroke-width="1.15"/>
<line x1="39.85" y1="237.4" x2="39.85" y2="369" stroke="#444" stroke-width="1.5"/>
<line x1="35.75" y1="369" x2="39.85" y2="369" stroke="#222" stroke-width="1.2"/>
<text class="yl" text-anchor="end" transform="translate(32.55,372.4) scale(1,1.08)">0</text>
<line x1="35.75" y1="336.1" x2="39.85" y2="336.1" stroke="#222" stroke-width="1.2"/>
<text class="yl" text-anchor="end" transform="translate(32.55,339.5) scale(1,1.08)">10</text>
<line x1="35.75" y1="303.2" x2="39.85" y2="303.2" stroke="#222" stroke-width="1.2"/>
<text class="yl" text-anchor="end" transform="translate(32.55,306.6) scale(1,1.08)">20</text>
<line x1="35.75" y1="270.3" x2="39.85" y2="270.3" stroke="#222" stroke-width="1.2"/>
<text class="yl" text-anchor="end" transform="translate(32.55,273.7) scale(1,1.08)">30</text>
<line x1="35.75" y1="237.4" x2="39.85" y2="237.4" stroke="#222" stroke-width="1.2"/>
<text class="yl" text-anchor="end" transform="translate(32.55,240.8) scale(1,1.08)">40</text>
<text class="al" text-anchor="middle" transform="translate(8.9,303.2) rotate(-90)">AEA [ng/g]</text>
<g fill="#000">
<polygon points="98.30,264.00 98.88,265.40 100.39,265.52 99.24,266.51 99.59,267.98 98.30,267.19 97.01,267.98 97.36,266.51 96.21,265.52 97.72,265.40"/>
<polygon points="126.90,263.90 127.53,265.43 129.18,265.56 127.93,266.63 128.31,268.24 126.90,267.38 125.49,268.24 125.87,266.63 124.62,265.56 126.27,265.43"/>
<polygon points="131.60,263.90 132.23,265.43 133.88,265.56 132.63,266.63 133.01,268.24 131.60,267.38 130.19,268.24 130.57,266.63 129.32,265.56 130.97,265.43"/>
<polygon points="136.30,263.90 136.93,265.43 138.58,265.56 137.33,266.63 137.71,268.24 136.30,267.38 134.89,268.24 135.27,266.63 134.02,265.56 135.67,265.43"/>
<polygon points="151.40,237.40 152.03,238.93 153.68,239.06 152.43,240.13 152.81,241.74 151.40,240.88 149.99,241.74 150.37,240.13 149.12,239.06 150.77,238.93"/>
<polygon points="156.10,237.40 156.73,238.93 158.38,239.06 157.13,240.13 157.51,241.74 156.10,240.88 154.69,241.74 155.07,240.13 153.82,239.06 155.47,238.93"/>
<polygon points="160.80,237.40 161.43,238.93 163.08,239.06 161.83,240.13 162.21,241.74 160.80,240.88 159.39,241.74 159.77,240.13 158.52,239.06 160.17,238.93"/>
<polygon points="166.95,265.90 167.58,267.43 169.23,267.56 167.98,268.63 168.36,270.24 166.95,269.38 165.54,270.24 165.92,268.63 164.67,267.56 166.32,267.43"/>
<polygon points="171.65,265.90 172.28,267.43 173.93,267.56 172.68,268.63 173.06,270.24 171.65,269.38 170.24,270.24 170.62,268.63 169.37,267.56 171.02,267.43"/>
</g></g>
<g>
<text class="t" x="364.4" y="223.8" text-anchor="middle">URB597(0.3)</text>
<line x1="271.27" y1="320.5" x2="271.27" y2="316.45" stroke="#000" stroke-width="1.9"/>
<line x1="269.27" y1="316.45" x2="273.27" y2="316.45" stroke="#000" stroke-width="1.9" stroke-linecap="round"/>
<path d="M267.2 369V320.5H275.35V369" fill="#d3d3d3" stroke="#000" stroke-width="2.0"/>
<line x1="279.45" y1="310.3" x2="279.45" y2="306.85" stroke="#000" stroke-width="1.9"/>
<line x1="277.45" y1="306.85" x2="281.45" y2="306.85" stroke="#000" stroke-width="1.9" stroke-linecap="round"/>
<path d="M275.35 369V310.3H283.55V369" fill="#666666" stroke="#000" stroke-width="2.0"/>
<line x1="287.62" y1="313.1" x2="287.62" y2="308.95" stroke="#000" stroke-width="1.9"/>
<line x1="285.62" y1="308.95" x2="289.62" y2="308.95" stroke="#000" stroke-width="1.9" stroke-linecap="round"/>
<path d="M283.55 369V313.1H291.7V369" fill="#000000" stroke="#000" stroke-width="2.0"/>
<line x1="279.45" y1="369" x2="279.45" y2="373.4" stroke="#111" stroke-width="1.5"/>
<text class="xl" text-anchor="end" transform="translate(283.05,382.7) rotate(-45)">PFCTX</text>
<line x1="304.65" y1="341.1" x2="304.65" y2="338.85" stroke="#000" stroke-width="1.9"/>
<line x1="302.65" y1="338.85" x2="306.65" y2="338.85" stroke="#000" stroke-width="1.9" stroke-linecap="round"/>
<path d="M300.58 369V341.1H308.73V369" fill="#d3d3d3" stroke="#000" stroke-width="2.0"/>
<line x1="312.83" y1="345.1" x2="312.83" y2="342.55" stroke="#000" stroke-width="1.9"/>
<line x1="310.83" y1="342.55" x2="314.83" y2="342.55" stroke="#000" stroke-width="1.9" stroke-linecap="round"/>
<path d="M308.73 369V345.1H316.93V369" fill="#666666" stroke="#000" stroke-width="2.0"/>
<line x1="321" y1="344.2" x2="321" y2="340.85" stroke="#000" stroke-width="1.9"/>
<line x1="319" y1="340.85" x2="323" y2="340.85" stroke="#000" stroke-width="1.9" stroke-linecap="round"/>
<path d="M316.93 369V344.2H325.08V369" fill="#000000" stroke="#000" stroke-width="2.0"/>
<line x1="312.83" y1="369" x2="312.83" y2="373.4" stroke="#111" stroke-width="1.5"/>
<text class="xl" text-anchor="end" transform="translate(316.43,382.7) rotate(-45)">FCTX</text>
<line x1="338.03" y1="338.7" x2="338.03" y2="336.85" stroke="#000" stroke-width="1.9"/>
<line x1="336.03" y1="336.85" x2="340.03" y2="336.85" stroke="#000" stroke-width="1.9" stroke-linecap="round"/>
<path d="M333.96 369V338.7H342.11V369" fill="#d3d3d3" stroke="#000" stroke-width="2.0"/>
<line x1="346.21" y1="342.8" x2="346.21" y2="340.15" stroke="#000" stroke-width="1.9"/>
<line x1="344.21" y1="340.15" x2="348.21" y2="340.15" stroke="#000" stroke-width="1.9" stroke-linecap="round"/>
<path d="M342.11 369V342.8H350.31V369" fill="#666666" stroke="#000" stroke-width="2.0"/>
<line x1="354.38" y1="330.7" x2="354.38" y2="328.85" stroke="#000" stroke-width="1.9"/>
<line x1="352.38" y1="328.85" x2="356.38" y2="328.85" stroke="#000" stroke-width="1.9" stroke-linecap="round"/>
<path d="M350.31 369V330.7H358.46V369" fill="#000000" stroke="#000" stroke-width="2.0"/>
<line x1="346.21" y1="369" x2="346.21" y2="373.4" stroke="#111" stroke-width="1.5"/>
<text class="xl" text-anchor="end" transform="translate(349.81,382.7) rotate(-45)">HIP</text>
<line x1="371.42" y1="345.9" x2="371.42" y2="345.05" stroke="#000" stroke-width="1.9"/>
<line x1="369.42" y1="345.05" x2="373.42" y2="345.05" stroke="#000" stroke-width="1.9" stroke-linecap="round"/>
<path d="M367.34 369V345.9H375.49V369" fill="#d3d3d3" stroke="#000" stroke-width="2.0"/>
<line x1="379.59" y1="345.1" x2="379.59" y2="344.05" stroke="#000" stroke-width="1.9"/>
<line x1="377.59" y1="344.05" x2="381.59" y2="344.05" stroke="#000" stroke-width="1.9" stroke-linecap="round"/>
<path d="M375.49 369V345.1H383.69V369" fill="#666666" stroke="#000" stroke-width="2.0"/>
<line x1="387.77" y1="341.9" x2="387.77" y2="340.35" stroke="#000" stroke-width="1.9"/>
<line x1="385.77" y1="340.35" x2="389.77" y2="340.35" stroke="#000" stroke-width="1.9" stroke-linecap="round"/>
<path d="M383.69 369V341.9H391.84V369" fill="#000000" stroke="#000" stroke-width="2.0"/>
<line x1="379.59" y1="369" x2="379.59" y2="373.4" stroke="#111" stroke-width="1.5"/>
<text class="xl" text-anchor="end" transform="translate(383.19,382.7) rotate(-45)">DSTR</text>
<line x1="404.8" y1="343.1" x2="404.8" y2="341.25" stroke="#000" stroke-width="1.9"/>
<line x1="402.8" y1="341.25" x2="406.8" y2="341.25" stroke="#000" stroke-width="1.9" stroke-linecap="round"/>
<path d="M400.72 369V343.1H408.87V369" fill="#d3d3d3" stroke="#000" stroke-width="2.0"/>
<line x1="412.97" y1="339.4" x2="412.97" y2="337.85" stroke="#000" stroke-width="1.9"/>
<line x1="410.97" y1="337.85" x2="414.97" y2="337.85" stroke="#000" stroke-width="1.9" stroke-linecap="round"/>
<path d="M408.87 369V339.4H417.07V369" fill="#666666" stroke="#000" stroke-width="2.0"/>
<line x1="421.15" y1="342.3" x2="421.15" y2="341.05" stroke="#000" stroke-width="1.9"/>
<line x1="419.15" y1="341.05" x2="423.15" y2="341.05" stroke="#000" stroke-width="1.9" stroke-linecap="round"/>
<path d="M417.07 369V342.3H425.22V369" fill="#000000" stroke="#000" stroke-width="2.0"/>
<line x1="412.97" y1="369" x2="412.97" y2="373.4" stroke="#111" stroke-width="1.5"/>
<text class="xl" text-anchor="end" transform="translate(416.57,382.7) rotate(-45)">NAc</text>
<line x1="438.18" y1="357.3" x2="438.18" y2="356.15" stroke="#000" stroke-width="1.9"/>
<line x1="436.18" y1="356.15" x2="440.18" y2="356.15" stroke="#000" stroke-width="1.9" stroke-linecap="round"/>
<path d="M434.1 369V357.3H442.25V369" fill="#d3d3d3" stroke="#000" stroke-width="2.0"/>
<line x1="446.35" y1="352.9" x2="446.35" y2="351.35" stroke="#000" stroke-width="1.9"/>
<line x1="444.35" y1="351.35" x2="448.35" y2="351.35" stroke="#000" stroke-width="1.9" stroke-linecap="round"/>
<path d="M442.25 369V352.9H450.45V369" fill="#666666" stroke="#000" stroke-width="2.0"/>
<line x1="454.53" y1="345.5" x2="454.53" y2="343.25" stroke="#000" stroke-width="1.9"/>
<line x1="452.53" y1="343.25" x2="456.53" y2="343.25" stroke="#000" stroke-width="1.9" stroke-linecap="round"/>
<path d="M450.45 369V345.5H458.6V369" fill="#000000" stroke="#000" stroke-width="2.0"/>
<line x1="446.35" y1="369" x2="446.35" y2="373.4" stroke="#111" stroke-width="1.5"/>
<text class="xl" text-anchor="end" transform="translate(449.95,382.7) rotate(-45)">CER</text>
<line x1="263.8" y1="369" x2="463.6" y2="369" stroke="#111" stroke-width="1.15"/>
<g fill="#000">
<polygon points="354.60,314.30 355.23,315.83 356.88,315.96 355.63,317.03 356.01,318.64 354.60,317.78 353.19,318.64 353.57,317.03 352.32,315.96 353.97,315.83"/>
<polygon points="388.10,326.70 388.73,328.23 390.38,328.36 389.13,329.43 389.51,331.04 388.10,330.18 386.69,331.04 387.07,329.43 385.82,328.36 387.47,328.23"/>
<polygon points="450.70,334.20 451.33,335.73 452.98,335.86 451.73,336.93 452.11,338.54 450.70,337.68 449.29,338.54 449.67,336.93 448.42,335.86 450.07,335.73"/>
<polygon points="455.40,334.20 456.03,335.73 457.68,335.86 456.43,336.93 456.81,338.54 455.40,337.68 453.99,338.54 454.37,336.93 453.12,335.86 454.77,335.73"/>
<polygon points="460.10,334.20 460.73,335.73 462.38,335.86 461.13,336.93 461.51,338.54 460.10,337.68 458.69,338.54 459.07,336.93 457.82,335.86 459.47,335.73"/>
</g></g>
<rect x="619.9" y="38.6" width="12.7" height="5.9" rx="1" fill="#d3d3d3" stroke="#000" stroke-width="1.8"/>
<text class="lg" transform="translate(640,45.5) scale(1,1.08)">VEH</text>
<rect x="619.9" y="51.8" width="12.7" height="5.9" rx="1" fill="#666666" stroke="#000" stroke-width="1.8"/>
<text class="lg" transform="translate(640,58.7) scale(1,1.08)">ACUTE</text>
<rect x="619.9" y="65.6" width="12.7" height="5.9" rx="1" fill="#000000" stroke="#000" stroke-width="1.8"/>
<text class="lg" transform="translate(640,72.5) scale(1,1.08)">CHRONIC</text>
<rect x="447.4" y="249.7" width="12.7" height="5.9" rx="1" fill="#d3d3d3" stroke="#000" stroke-width="1.8"/>
<text class="lg" transform="translate(467.5,256.6) scale(1,1.08)">VEH</text>
<rect x="447.4" y="263.2" width="12.7" height="5.9" rx="1" fill="#666666" stroke="#000" stroke-width="1.8"/>
<text class="lg" transform="translate(467.5,270.1) scale(1,1.08)">ACUTE</text>
<rect x="447.4" y="276.9" width="12.7" height="5.9" rx="1" fill="#000000" stroke="#000" stroke-width="1.8"/>
<text class="lg" transform="translate(467.5,283.8) scale(1,1.08)">CHRONIC</text>
</svg></div></body></html>
